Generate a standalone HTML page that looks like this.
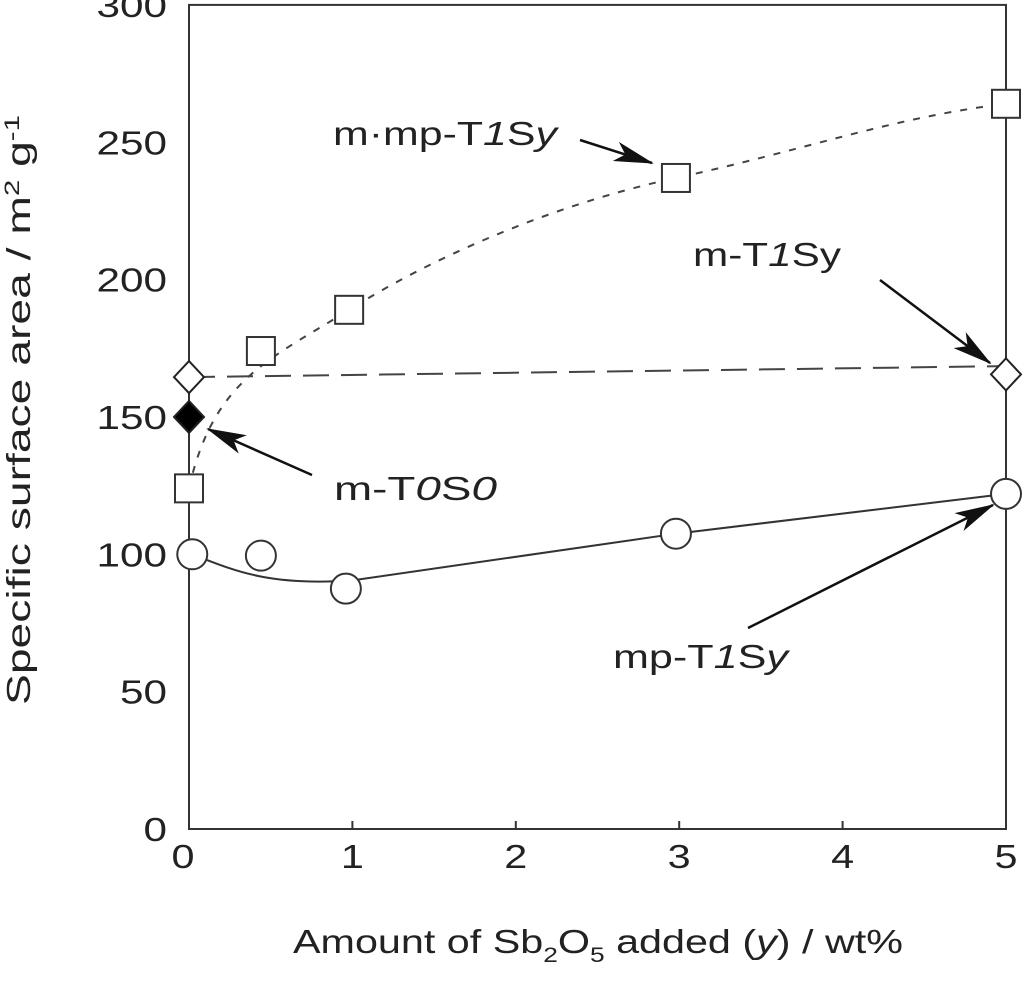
<!DOCTYPE html>
<html><head><meta charset="utf-8"><style>
body{margin:0;background:#fff}
text{font-family:"Liberation Sans",sans-serif;fill:#222}
</style></head><body>
<svg width="1024" height="978" viewBox="0 0 1024 978">
<defs>
<marker id="ah2" viewBox="0 0 40 20" refX="38" refY="10" markerWidth="40" markerHeight="20" markerUnits="userSpaceOnUse" orient="auto"><path d="M0,0 L40,10 L0,20 L10,10z" fill="#111"/></marker></defs>
<g id="axes"></g><g id="marks"></g>
<text x="30" y="410" font-size="33" text-anchor="middle" textLength="590" lengthAdjust="spacingAndGlyphs" transform="rotate(-90 30 410)">Specific surface area / m<tspan dy="-11" font-size="21">2</tspan><tspan dy="11"> g</tspan><tspan dy="-11" font-size="21">-1</tspan></text>
<text x="598" y="953" font-size="33" text-anchor="middle" textLength="610" lengthAdjust="spacingAndGlyphs">Amount of Sb<tspan dy="9" font-size="21">2</tspan><tspan dy="-9">O</tspan><tspan dy="9" font-size="21">5</tspan><tspan dy="-9"> added (</tspan><tspan font-style="italic">y</tspan>) / wt%</text>
<g>
<text x="333" y="145" font-size="33" textLength="224" lengthAdjust="spacingAndGlyphs">m·mp-T<tspan font-style="italic">1</tspan>S<tspan font-style="italic">y</tspan></text>
<line x1="580" y1="140" x2="652" y2="163" stroke="#111" stroke-width="2.5" marker-end="url(#ah2)"/>
<text x="693" y="266" font-size="33" textLength="148" lengthAdjust="spacingAndGlyphs">m-T<tspan font-style="italic">1</tspan>Sy</text>
<line x1="880" y1="280" x2="990" y2="363" stroke="#111" stroke-width="2.5" marker-end="url(#ah2)"/>
<text x="334" y="500" font-size="33" textLength="163" lengthAdjust="spacingAndGlyphs">m-T<tspan font-style="italic">0</tspan>S<tspan font-style="italic">0</tspan></text>
<line x1="312" y1="475" x2="208" y2="429" stroke="#111" stroke-width="2.5" marker-end="url(#ah2)"/>
<text x="613" y="668" font-size="33" textLength="175" lengthAdjust="spacingAndGlyphs">mp-T<tspan font-style="italic">1</tspan>S<tspan font-style="italic">y</tspan></text>
<line x1="748" y1="628" x2="993" y2="505" stroke="#111" stroke-width="2.5" marker-end="url(#ah2)"/>
</g>
</svg>
<script>
const xTicks=[0,1,2,3,4,5];
const yTicks=[0,50,100,150,200,250,300];
const sqX=[0,0.44,0.98,2.98,5];
const sqY=[124,174,189,237,264];
const dX=[0,5];
const dY=[164.5,165.5];
const fdX=[0];
const fdY=[150];
const cX=[0.02,0.44,0.96,2.98,5];
const cY=[100,99.5,87.5,107.5,122];
const X=v=>189+v*163.4, Y=v=>829-v*2.747;
const NS='http://www.w3.org/2000/svg';
function mk(t,a,p){const e=document.createElementNS(NS,t);for(const k in a)e.setAttribute(k,a[k]);p.appendChild(e);return e;}
const ax=document.getElementById('axes'),mg=document.getElementById('marks');
const fr=mk('rect',{x:X(0),y:Y(300),width:X(5)-X(0),height:Y(0)-Y(300),fill:'none',stroke:'#333','stroke-width':2},ax);


xTicks.forEach(t=>{const l=mk('line',{x1:X(t),x2:X(t),y1:Y(0),y2:Y(0)-8,stroke:'#333','stroke-width':2},ax);


const tx=mk('text',{x:X(t)-(t==0?6:0),y:868,'font-size':33,'text-anchor':'middle',textLength:23,lengthAdjust:'spacingAndGlyphs'},ax);tx.textContent=t;

});
yTicks.forEach(t=>{const s=String(t);const tx=mk('text',{x:167,y:Y(t)+12,'font-size':33,'text-anchor':'end',textLength:s.length*23.5,lengthAdjust:'spacingAndGlyphs'},ax);tx.textContent=s;

});
function smooth(xs,ys){const p=xs.map((x,i)=>[X(x),Y(ys[i])]);let d='M'+p[0];for(let i=0;i<p.length-1;i++){const p0=p[i-1]||p[i],p1=p[i],p2=p[i+1],p3=p[i+2]||p2;const c1=[p1[0]+(p2[0]-p0[0])/6,p1[1]+(p2[1]-p0[1])/6],c2=[p2[0]-(p3[0]-p1[0])/6,p2[1]-(p3[1]-p1[1])/6];d+=' C'+c1+' '+c2+' '+p2;}return d;}
let c=mk('path',{d:`M${X(sqX[0])},${Y(sqY[0])} C${X(0.15)},${Y(sqY[1]-10)} ${X(0.5)},${Y(sqY[2]-18)} ${X(sqX[2])},${Y(sqY[2])} S${X(2.2)},${Y(sqY[3]-10)} ${X(sqX[3])},${Y(sqY[3])} S${X(4.3)},${Y(sqY[4]-5)} ${X(sqX[4])},${Y(sqY[4])}`,fill:'none',stroke:'#444','stroke-width':2,'stroke-dasharray':'7 9'},mg);


c=mk('path',{d:'M'+X(dX[0])+','+Y(dY[0])+' L'+X(dX[1])+','+Y(dY[1]+3),fill:'none',stroke:'#444','stroke-width':2,'stroke-dasharray':'26 12'},mg);


c=mk('path',{d:`M${X(cX[0])},${Y(cY[0])} C${X(0.3)},${Y(cY[1]-6)} ${X(0.5)},${Y(cY[2]+1)} ${X(1)},${Y(cY[2]+3)} L${X(cX[3])},${Y(cY[3])} L${X(cX[4])},${Y(cY[4])}`,fill:'none',stroke:'#333','stroke-width':2},mg);


sqX.forEach((x,i)=>{const e=mk('rect',{x:X(x)-14,y:Y(sqY[i])-14,width:28,height:28,fill:'#fff',stroke:'#333','stroke-width':2},mg);

});
function dia(x,y,f,n){const e=mk('path',{d:`M${X(x)},${Y(y)-16} l15,16 l-15,16 l-15,-16z`,fill:f,stroke:'#222','stroke-width':2},mg);

}
dX.forEach((x,i)=>dia(x,dY[i],'#fff','diamond-point'));
fdX.forEach((x,i)=>dia(x,fdY[i],'#000','filled-diamond-point'));
cX.forEach((x,i)=>{const e=mk('circle',{cx:X(x),cy:Y(cY[i]),r:15,fill:'#fff',stroke:'#333','stroke-width':2},mg);

});
</script>
</body></html>
